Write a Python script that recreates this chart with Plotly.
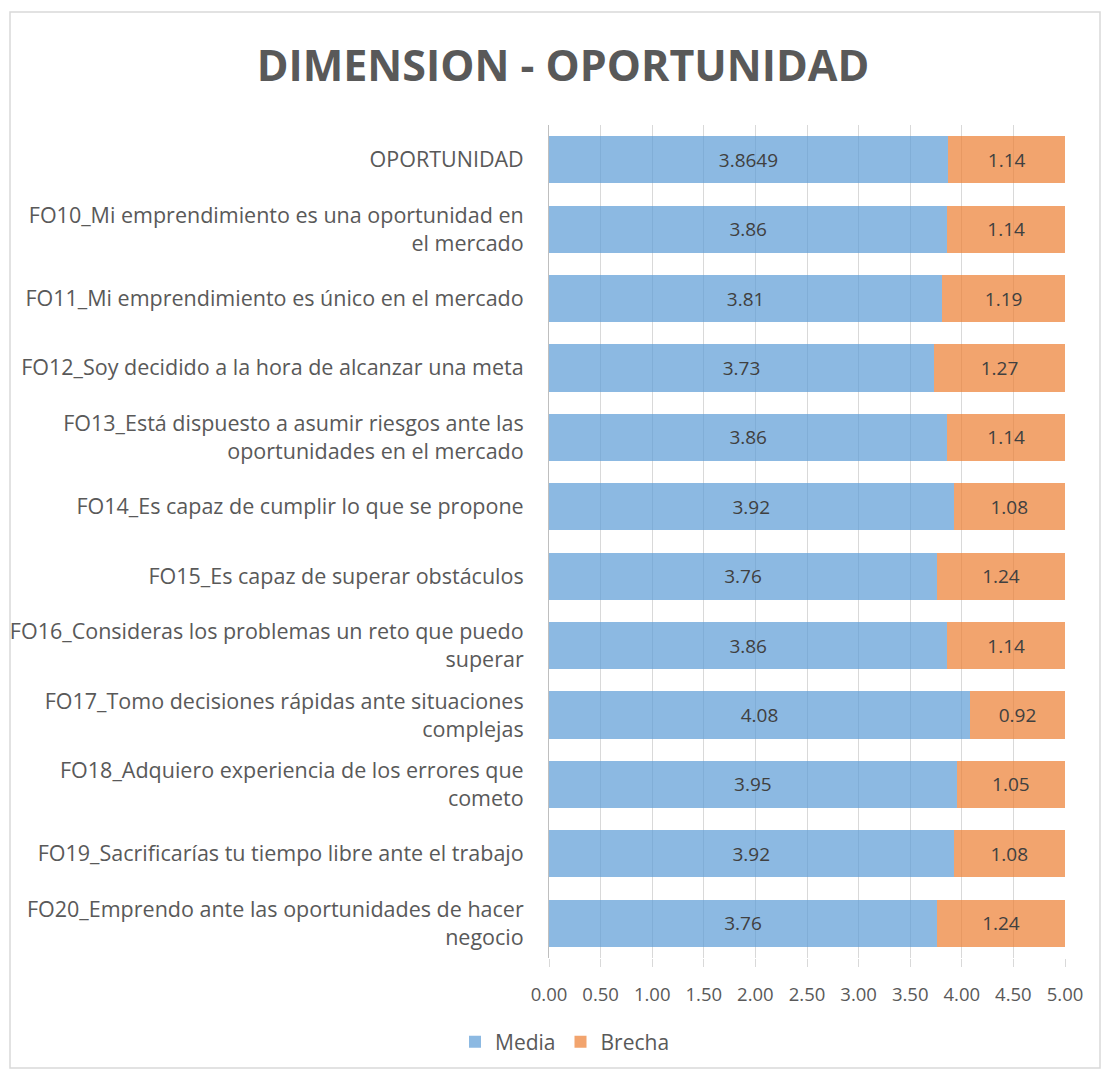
import plotly.graph_objects as go

categories = [
    "OPORTUNIDAD",
    "FO10_Mi emprendimiento es una oportunidad en<br>el mercado",
    "FO11_Mi emprendimiento es único en el mercado",
    "FO12_Soy decidido a la hora de alcanzar una meta",
    "FO13_Está dispuesto a asumir riesgos ante las<br>oportunidades en el mercado",
    "FO14_Es capaz de cumplir lo que se propone",
    "FO15_Es capaz de superar obstáculos",
    "FO16_Consideras los problemas un reto que puedo<br>superar",
    "FO17_Tomo decisiones rápidas ante situaciones<br>complejas",
    "FO18_Adquiero experiencia de los errores que<br>cometo",
    "FO19_Sacrificarías tu tiempo libre ante el trabajo",
    "FO20_Emprendo ante las oportunidades de hacer<br>negocio",
]
media = [3.8649, 3.86, 3.81, 3.73, 3.86, 3.92, 3.76, 3.86, 4.08, 3.95, 3.92, 3.76]
brecha = [1.14, 1.14, 1.19, 1.27, 1.14, 1.08, 1.24, 1.14, 0.92, 1.05, 1.08, 1.24]
x_ticks = [0, 0.5, 1, 1.5, 2, 2.5, 3, 3.5, 4, 4.5, 5]

FONT = "Open Sans"
GRAY = "#595959"

fig = go.Figure()
fig.add_trace(go.Bar(
    y=categories, x=media, name="Media", orientation="h",
    marker=dict(color="rgba(91,155,213,0.7)", line=dict(width=0)),
    text=[f"{v:g}" for v in media], textposition="inside", insidetextanchor="middle",
    textfont=dict(size=19, color="#404040", family=FONT),
))
fig.add_trace(go.Bar(
    y=categories, x=brecha, name="Brecha", orientation="h",
    marker=dict(color="rgba(237,125,49,0.7)", line=dict(width=0)),
    text=[f"{v:.2f}" for v in brecha], textposition="inside", insidetextanchor="middle",
    textfont=dict(size=19, color="#404040", family=FONT),
))

L, R, T, B = 549, 39, 125, 114
W, H = 1104, 1072
pw, ph = W - L - R, H - T - B

fig.update_layout(
    width=W, height=H,
    margin=dict(l=L, r=R, t=T, b=B, autoexpand=False),
    barmode="stack", bargap=0.32,
    plot_bgcolor="white", paper_bgcolor="white",
    font=dict(family=FONT, color=GRAY, size=20),
    title=dict(text="<b>DIMENSION - OPORTUNIDAD</b>", x=563 / W, xref="container", xanchor="center",
               y=1 - 66 / H, yref="container", yanchor="middle",
               font=dict(size=43, color=GRAY, family=FONT)),
    uniformtext=dict(minsize=18, mode="show"),
    legend=dict(orientation="h", x=(565 - L) / pw, xanchor="center",
                y=(H - B - 1042) / ph, yanchor="middle",
                font=dict(size=21, color=GRAY), traceorder="normal",
                itemwidth=30, tracegroupgap=0),
    xaxis=dict(range=[0, 5], tickvals=x_ticks, ticktext=[f"{v:.2f}" for v in x_ticks],
               showgrid=True, gridcolor="#d9d9d9", gridwidth=1, zeroline=False,
               ticks="outside", ticklen=8, tickcolor="#d9d9d9",
               ticklabelstandoff=12, automargin=False,
               tickfont=dict(size=18.5, color=GRAY), fixedrange=True),
    yaxis=dict(autorange="reversed", showline=True, linecolor="#bfbfbf", linewidth=1,
               ticks="", ticklabelstandoff=20, automargin=False,
               tickfont=dict(size=21.5, color=GRAY)),
    shapes=[dict(type="rect", xref="paper", yref="paper",
                 x0=(10 - L) / pw, x1=(1100 - L) / pw,
                 y0=(H - B - 1068) / ph, y1=(H - B - 12) / ph,
                 line=dict(color="#d9d9d9", width=1.5), fillcolor="rgba(0,0,0,0)", layer="below")],
)

fig.write_html("out.html", config={"displayModeBar": False},
               post_script="document.body.style.margin='0px';")
